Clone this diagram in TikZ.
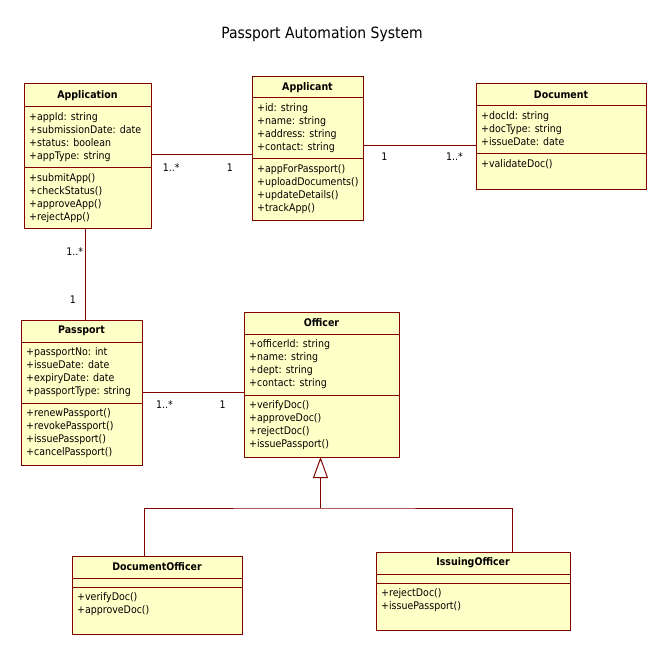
\documentclass[tikz,border=0pt]{standalone}
\usepackage{fontspec}
\setmainfont{DejaVu Sans Condensed}
\usetikzlibrary{positioning, arrows.meta}
\definecolor{umlline}{RGB}{128,0,0}
\definecolor{umlfill}{RGB}{255,255,200}

\begin{document}
\begin{tikzpicture}[x=1pt, y=-1pt, font=\fontsize{10.5}{12.7}\selectfont,
  classhead/.style={draw=umlline, fill=umlfill, line width=1pt, outer sep=0pt, anchor=north west,
    font=\fontsize{10.5}{12.7}\selectfont\bfseries},
  classpart/.style={draw=umlline, fill=umlfill, line width=1pt, outer sep=0pt, inner sep=0pt},
  members/.style={anchor=north west, align=left, inner xsep=5pt, inner ysep=5.8pt},
  mult/.style={inner sep=1pt},
  assoc/.style={draw=umlline, line width=1pt}]
  \useasboundingbox (0,0) rectangle (667,655);
  \node (title) at (322,34) {\fontsize{15.5}{17}\selectfont Passport Automation System};

  \node[classhead, minimum width=127, minimum height=23] (apphead) at (24,84) {Application};
  \node[classpart, minimum width=127, minimum height=61, below=0pt of apphead] (appattr) {};
  \node[classpart, minimum width=127, minimum height=61, below=0pt of appattr] (appmeth) {};
  \node[members] (appattrtxt) at (appattr.north west) {+appId: string\\+submissionDate: date\\+status: boolean\\+appType: string};
  \node[members] (appmethtxt) at (appmeth.north west) {+submitApp()\\+checkStatus()\\+approveApp()\\+rejectApp()};

  \node[classhead, minimum width=111, minimum height=21] (apchead) at (252,77) {Applicant};
  \node[classpart, minimum width=111, minimum height=61, below=0pt of apchead] (apcattr) {};
  \node[classpart, minimum width=111, minimum height=62, below=0pt of apcattr] (apcmeth) {};
  \node[members] (apcattrtxt) at (apcattr.north west) {+id: string\\+name: string\\+address: string\\+contact: string};
  \node[members] (apcmethtxt) at (apcmeth.north west) {+appForPassport()\\+uploadDocuments()\\+updateDetails()\\+trackApp()};

  \node[classhead, minimum width=170, minimum height=22] (dochead) at (476,84) {Document};
  \node[classpart, minimum width=170, minimum height=48, below=0pt of dochead] (docattr) {};
  \node[classpart, minimum width=170, minimum height=36, below=0pt of docattr] (docmeth) {};
  \node[members] (docattrtxt) at (docattr.north west) {+docId: string\\+docType: string\\+issueDate: date};
  \node[members] (docmethtxt) at (docmeth.north west) {+validateDoc()};

  \node[classhead, minimum width=121, minimum height=22] (pphead) at (21,320) {Passport};
  \node[classpart, minimum width=121, minimum height=61, below=0pt of pphead] (ppattr) {};
  \node[classpart, minimum width=121, minimum height=62, below=0pt of ppattr] (ppmeth) {};
  \node[members] (ppattrtxt) at (ppattr.north west) {+passportNo: int\\+issueDate: date\\+expiryDate: date\\+passportType: string};
  \node[members] (ppmethtxt) at (ppmeth.north west) {+renewPassport()\\+revokePassport()\\+issuePassport()\\+cancelPassport()};

  \node[classhead, minimum width=155, minimum height=22] (offhead) at (244,312) {Officer};
  \node[classpart, minimum width=155, minimum height=61, below=0pt of offhead] (offattr) {};
  \node[classpart, minimum width=155, minimum height=62, below=0pt of offattr] (offmeth) {};
  \node[members] (offattrtxt) at (offattr.north west) {+officerId: string\\+name: string\\+dept: string\\+contact: string};
  \node[members] (offmethtxt) at (offmeth.north west) {+verifyDoc()\\+approveDoc()\\+rejectDoc()\\+issuePassport()};

  \node[classhead, minimum width=170, minimum height=22] (dohead) at (72,556) {DocumentOfficer};
  \node[classpart, minimum width=170, minimum height=9, below=0pt of dohead] (doattr) {};
  \node[classpart, minimum width=170, minimum height=47, below=0pt of doattr] (dometh) {};
  \node[members] (domethtxt) at (dometh.north west) {+verifyDoc()\\+approveDoc()};

  \node[classhead, minimum width=194, minimum height=22] (iohead) at (376,552) {IssuingOfficer};
  \node[classpart, minimum width=194, minimum height=9, below=0pt of iohead] (ioattr) {};
  \node[classpart, minimum width=194, minimum height=47, below=0pt of ioattr] (iometh) {};
  \node[members] (iomethtxt) at (iometh.north west) {+rejectDoc()\\+issuePassport()};

  \coordinate (appapc) at ([yshift=13pt]appattr.south east);
  \draw[assoc] (appapc) -- (appapc -| apcattr.west)
    node[mult, pos=0.2, below=7pt] {1..*}
    node[mult, pos=0.78, below=7pt] {1};
  \coordinate (apcdoc) at ([yshift=13pt]apcattr.south east);
  \draw[assoc] (apcdoc) -- (apcdoc -| docattr.west)
    node[mult, pos=0.19, below=5pt] {1}
    node[mult, pos=0.81, below=5pt] {1..*};
  \coordinate (apppp) at ([xshift=-2pt]appmeth.south);
  \draw[assoc] (apppp) -- (apppp |- pphead.north)
    node[mult, pos=0.25, left=1pt] {1..*}
    node[mult, pos=0.78, left=8pt] {1};
  \coordinate (ppoff) at ([yshift=11pt]ppattr.south east);
  \draw[assoc] (ppoff) -- (ppoff -| offattr.west)
    node[mult, pos=0.22, below=7pt] {1..*}
    node[mult, pos=0.79, below=7pt] {1};

  \coordinate (offbot) at ([xshift=-1pt]offmeth.south);
  \coordinate (genjoin) at ([yshift=-51pt]offbot);
  \coordinate (dotop) at ([xshift=-13pt]dohead.north);
  \coordinate (iotop) at ([xshift=39pt]iohead.north);
  \draw[assoc] (dotop) |- (genjoin) -| (iotop);
  \draw[assoc, -{Triangle[open, length=21pt, width=15pt, fill=white]}] (genjoin) -- (offbot);
\end{tikzpicture}
\end{document}
